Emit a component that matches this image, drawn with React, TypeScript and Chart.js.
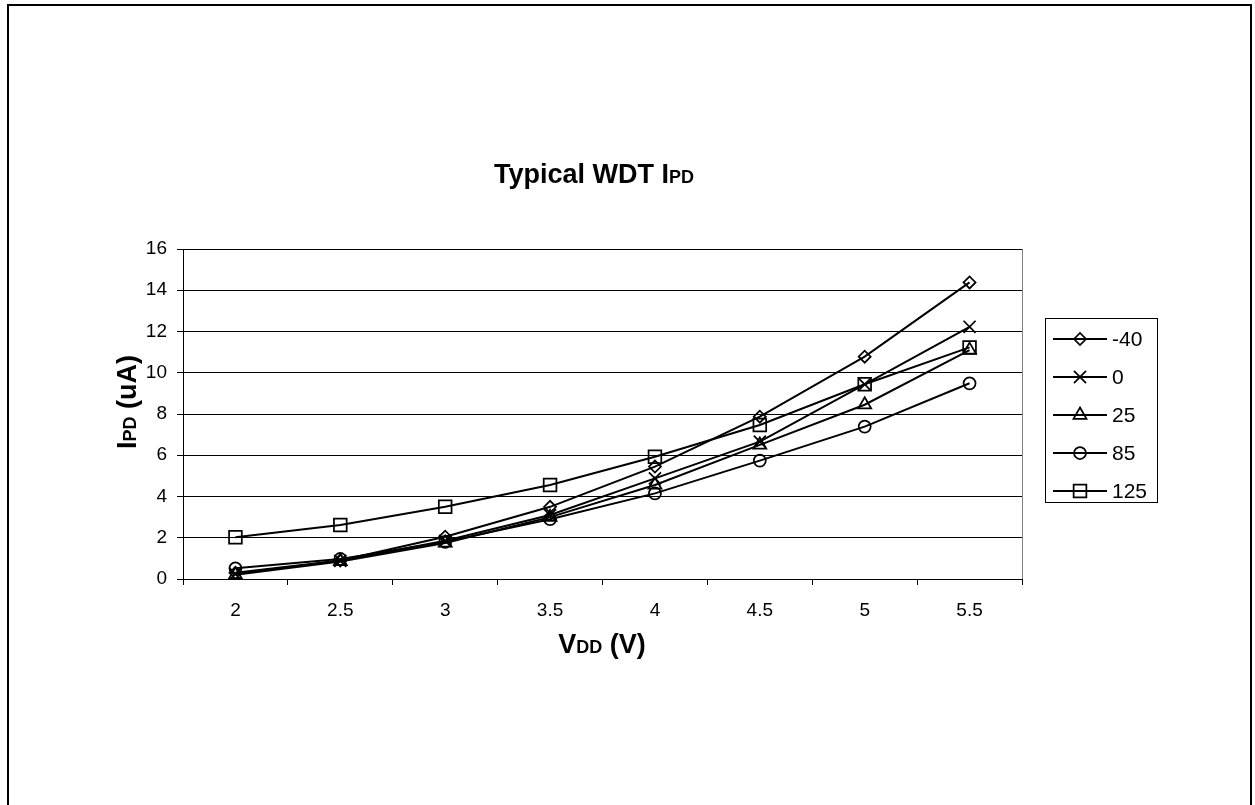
import React, { useEffect, useRef } from 'react';
import { Chart, registerables } from 'chart.js';

Chart.register(...registerables);

// ---- data ----
const categories = ['2', '2.5', '3', '3.5', '4', '4.5', '5', '5.5'];
const seriesLabels = ['-40', '0', '25', '85', '125'];
const tempMinus40 = [0.3, 0.9, 2.05, 3.5, 5.45, 7.87, 10.78, 14.38];
const temp0 = [0.25, 0.88, 1.85, 3.1, 4.88, 6.66, 9.44, 12.23];
const temp25 = [0.2, 0.85, 1.75, 3.0, 4.56, 6.5, 8.45, 11.1];
const temp85 = [0.52, 0.97, 1.8, 2.9, 4.15, 5.74, 7.39, 9.49];
const temp125 = [2.02, 2.62, 3.5, 4.56, 5.93, 7.47, 9.44, 11.23];
const seriesValues = [tempMinus40, temp0, temp25, temp85, temp125];
const yMin = 0;
const yMax = 16;
const yStep = 2;

const pointStyles = ['rectRot', 'crossRot', 'triangle', 'circle', 'rect'];
const pointRadii = [6, 8.5, 7.5, 6, 9];

const FONT = '"Liberation Sans", Arial, Helvetica, sans-serif';

type Part = { t: string; size: number };

function drawParts(ctx: CanvasRenderingContext2D, parts: Part[], x: number, y: number) {
  const widths = parts.map((p) => {
    ctx.font = `bold ${p.size}px ${FONT}`;
    return ctx.measureText(p.t).width;
  });
  const total = widths.reduce((a, b) => a + b, 0);
  let cx = x - total / 2;
  ctx.textAlign = 'left';
  ctx.textBaseline = 'alphabetic';
  parts.forEach((p, i) => {
    ctx.font = `bold ${p.size}px ${FONT}`;
    ctx.fillText(p.t, cx, y);
    cx += widths[i];
  });
}

function drawMarker(ctx: CanvasRenderingContext2D, style: string, x: number, y: number, r: number) {
  ctx.beginPath();
  if (style === 'rectRot') {
    ctx.moveTo(x - r, y);
    ctx.lineTo(x, y - r);
    ctx.lineTo(x + r, y);
    ctx.lineTo(x, y + r);
    ctx.closePath();
  } else if (style === 'crossRot') {
    const o = r * Math.SQRT1_2;
    ctx.moveTo(x - o, y - o);
    ctx.lineTo(x + o, y + o);
    ctx.moveTo(x + o, y - o);
    ctx.lineTo(x - o, y + o);
  } else if (style === 'triangle') {
    ctx.moveTo(x, y - r);
    ctx.lineTo(x + r * Math.sin((2 * Math.PI) / 3), y - r * Math.cos((2 * Math.PI) / 3));
    ctx.lineTo(x + r * Math.sin((4 * Math.PI) / 3), y - r * Math.cos((4 * Math.PI) / 3));
    ctx.closePath();
  } else if (style === 'circle') {
    ctx.arc(x, y, r, 0, Math.PI * 2);
    ctx.closePath();
  } else {
    const s = r * Math.SQRT1_2;
    ctx.rect(x - s, y - s, 2 * s, 2 * s);
  }
  ctx.stroke();
}

const overlayPlugin = {
  id: 'overlay',
  afterDraw(chart: any) {
    const ctx: CanvasRenderingContext2D = chart.ctx;
    const area = chart.chartArea;
    ctx.save();

    // outer frame
    ctx.strokeStyle = '#000';
    ctx.lineWidth = 2;
    ctx.strokeRect(8, 5, 1243, 830);

    // right border of plot area
    ctx.strokeStyle = '#808080';
    ctx.lineWidth = 1;
    ctx.beginPath();
    const rx = Math.round(area.right) + 0.5;
    ctx.moveTo(rx, area.top);
    ctx.lineTo(rx, area.bottom);
    ctx.stroke();

    ctx.fillStyle = '#000';
    // title
    drawParts(ctx, [
      { t: 'Typical WDT I', size: 27 },
      { t: 'PD', size: 18 },
    ], 594, 183);

    // x axis title
    drawParts(ctx, [
      { t: 'V', size: 27 },
      { t: 'DD', size: 18 },
      { t: ' (V)', size: 27 },
    ], 602, 653);

    // y axis title
    ctx.save();
    ctx.translate(136, 402);
    ctx.rotate(-Math.PI / 2);
    drawParts(ctx, [
      { t: 'I', size: 27 },
      { t: 'PD', size: 18 },
      { t: ' (uA)', size: 27 },
    ], 0, 0);
    ctx.restore();

    // legend
    const lx = 1045.5, ly = 318.5, lw = 112, lh = 184;
    ctx.strokeStyle = '#000';
    ctx.lineWidth = 1;
    ctx.strokeRect(lx, ly, lw, lh);
    const rowY = [339, 377, 415, 453, 491];
    chart.data.datasets.forEach((ds: any, i: number) => {
      const y = rowY[i];
      ctx.strokeStyle = '#000';
      ctx.lineWidth = 2;
      ctx.beginPath();
      ctx.moveTo(1053, y);
      ctx.lineTo(1107, y);
      ctx.stroke();
      ctx.lineWidth = 1.75;
      drawMarker(ctx, ds.pointStyle, 1080, y, ds.pointRadius);
      ctx.fillStyle = '#000';
      ctx.font = `21px ${FONT}`;
      ctx.textAlign = 'left';
      ctx.textBaseline = 'middle';
      ctx.fillText(ds.label, 1112, y + 1);
    });

    ctx.restore();
  },
};

export default function App() {
  const canvasRef = useRef<HTMLCanvasElement | null>(null);

  useEffect(() => {
    if (!canvasRef.current) return;
    const datasets = seriesLabels.map((label, i) => ({
      label,
      data: seriesValues[i],
      borderColor: '#000',
      borderWidth: 2,
      pointStyle: pointStyles[i],
      pointRadius: pointRadii[i],
      pointBorderColor: '#000',
      pointBorderWidth: 1.75,
      pointBackgroundColor: 'rgba(0,0,0,0)',
      fill: false,
      tension: 0,
    }));
    const chart = new Chart(canvasRef.current, {
      type: 'line',
      data: { labels: categories, datasets },
      options: {
        responsive: false,
        animation: false,
        events: [],
        layout: { padding: { left: 0, right: 233, top: 249, bottom: 0 } },
        plugins: {
          legend: { display: false },
          title: { display: false },
          tooltip: { enabled: false },
        },
        scales: {
          x: {
            type: 'category',
            offset: true,
            grid: {
              offset: true,
              drawOnChartArea: false,
              drawTicks: true,
              tickLength: 6,
              color: '#000',
            },
            border: { display: true, color: '#000', width: 1 },
            ticks: {
              color: '#000',
              font: { family: FONT, size: 19 },
              padding: 14,
              maxRotation: 0,
              autoSkip: false,
            },
            afterFit: (scale: any) => {
              scale.height = 226;
            },
          },
          y: {
            min: yMin,
            max: yMax,
            ticks: {
              stepSize: yStep,
              color: '#000',
              font: { family: FONT, size: 19 },
              padding: 10,
            },
            grid: {
              color: '#000',
              tickLength: 6,
              drawTicks: true,
            },
            border: { display: true, color: '#000', width: 1 },
            afterFit: (scale: any) => {
              scale.width = 183;
            },
          },
        },
      },
      plugins: [overlayPlugin],
    });
    return () => chart.destroy();
  }, []);

  return (
    <div style={{ position: 'absolute', left: 0, top: 0, width: 1255, height: 805, background: '#fff' }}>
      <canvas ref={canvasRef} width={1255} height={805} style={{ width: 1255, height: 805, display: 'block' }} />
    </div>
  );
}
